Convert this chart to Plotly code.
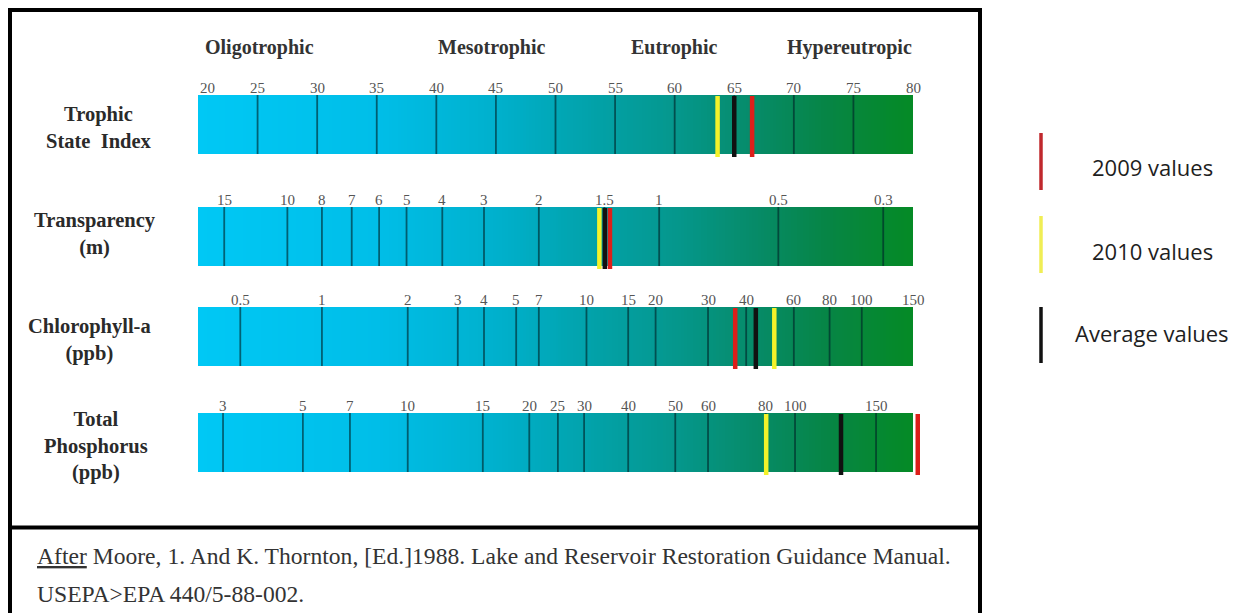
import numpy as np
import plotly.graph_objects as go

# ---------------- data ----------------
trophic_classes = ["Oligotrophic", "Mesotrophic", "Eutrophic", "Hypereutropic"]

parameter_lines = [
    ["Trophic", "State  Index"],
    ["Transparency", "(m)"],
    ["Chlorophyll-a", "(ppb)"],
    ["Total", "Phosphorus", "(ppb)"],
]

# tick labels of each scale and their position on the common TSI scale (20-80)
tsi_labels = ["20", "25", "30", "35", "40", "45", "50", "55", "60", "65", "70", "75", "80"]
tsi_ticks = [20, 25, 30, 35, 40, 45, 50, 55, 60, 65, 70, 75, 80]

transparency_labels = ["15", "10", "8", "7", "6", "5", "4", "3", "2", "1.5", "1", "0.5", "0.3"]
transparency_ticks = [22.2, 27.5, 30.4, 32.9, 35.2, 37.5, 40.5, 44.0, 48.6, 54.1, 58.7, 68.7, 77.5]

chlorophyll_labels = ["0.5", "1", "2", "3", "4", "5", "7", "10", "15", "20", "30", "40", "60", "80", "100", "150"]
chlorophyll_ticks = [23.55, 30.4, 37.6, 41.8, 44.0, 46.7, 48.6, 52.6, 56.1, 58.4, 62.8, 66.0, 70.0, 73.0, 75.7, 80.0]

phosphorus_labels = ["3", "5", "7", "10", "15", "20", "25", "30", "40", "50", "60", "80", "100", "150"]
phosphorus_ticks = [22.1, 28.8, 32.75, 37.6, 43.9, 47.8, 50.2, 52.4, 56.1, 60.05, 62.8, 67.65, 70.1, 76.9]

# measured values on the TSI-equivalent scale, per parameter row
series_names = ["2009 values", "2010 values", "Average values"]
values_2009 = [66.5, 54.57, 65.08, 80.4]
values_2010 = [63.6, 53.68, 68.36, 67.68]
values_avg = [65.0, 54.14, 66.81, 73.96]

footer_line1 = "Moore, 1. And K. Thornton, [Ed.]1988. Lake and Reservoir Restoration Guidance Manual."
footer_line2 = "USEPA>EPA 440/5-88-002."

# ---------------- layout / style ----------------
W, H = 1239, 613
OFF = 8                        # page offset of the figure (body margin)
PX0, PX1 = 198, 913            # page pixel positions of TSI 20 and 80
TMIN, TMAX = 20, 80
sc = (PX1 - PX0) / (TMAX - TMIN)
x_range = [TMIN + (OFF - PX0) / sc, TMIN + (OFF + W - PX0) / sc]
y_range = [H + OFF, OFF]

bar_tops = [95, 207, 307, 413]
bar_h = 59
row_ticks = [tsi_ticks, transparency_ticks, chlorophyll_ticks, phosphorus_ticks]
row_labels = [tsi_labels, transparency_labels, chlorophyll_labels, phosphorus_labels]
label_x_px = [99, 95, 89, 96]
label_y_px = [127.5, 233.5, 339.5, 446]
class_x_px = [259, 492, 674, 849]

SERIF = "Liberation Serif, Times New Roman, serif"
SANS = "Open Sans, Noto Sans, sans-serif"

colorscale = [
    [0.0, "#00C8F5"], [0.25, "#00BEE8"], [0.42, "#00B0CC"], [0.55, "#02A2AA"],
    [0.67, "#05978C"], [0.78, "#068B68"], [0.88, "#068545"], [1.0, "#058A25"],
]
series_colors = {"2009 values": "#DD1F1A", "2010 values": "#F4F22A", "Average values": "#111111"}
legend_colors = {"2009 values": "#C0282D", "2010 values": "#F0EE55", "Average values": "#111111"}

def px(x):
    return (x - OFF) / W

fig = go.Figure()

# gradient bars
edges = np.linspace(TMIN, TMAX, 241)
centers = (edges[:-1] + edges[1:]) / 2
for top in bar_tops:
    fig.add_trace(go.Heatmap(
        x=edges, y=[top, top + bar_h], z=[centers],
        zmin=TMIN, zmax=TMAX, colorscale=colorscale, showscale=False,
        hoverinfo="skip",
    ))

# tick lines inside bars
for top, ticks in zip(bar_tops, row_ticks):
    xs, ys = [], []
    for t in ticks:
        if TMIN < t < TMAX:
            xs += [t, t, None]
            ys += [top, top + bar_h, None]
    fig.add_trace(go.Scatter(x=xs, y=ys, mode="lines",
                             line=dict(color="rgba(0,35,40,0.62)", width=1.8),
                             hoverinfo="skip", showlegend=False))

# value markers
for name, vals in [("2010 values", values_2010), ("Average values", values_avg), ("2009 values", values_2009)]:
    xs, ys = [], []
    for top, v in zip(bar_tops, vals):
        xs += [v, v, None]
        ys += [top + 1, top + bar_h + 3, None]
    fig.add_trace(go.Scatter(x=xs, y=ys, mode="lines", name=name,
                             line=dict(color=series_colors[name], width=4.5),
                             hoverinfo="skip", showlegend=False))

annotations = []
# tick labels
for top, ticks, labels in zip(bar_tops, row_ticks, row_labels):
    for t, lab in zip(ticks, labels):
        annotations.append(dict(
            x=t, y=top - 7, xref="x", yref="y", text=lab, showarrow=False,
            xanchor="left" if t <= TMIN else "center", yanchor="middle",
            font=dict(family=SERIF, size=15, color="#555555"),
        ))

# trophic class headers
for name, xp in zip(trophic_classes, class_x_px):
    annotations.append(dict(
        x=px(xp), y=47, xref="paper", yref="y", text="<b>%s</b>" % name, showarrow=False,
        xanchor="center", yanchor="middle",
        font=dict(family=SERIF, size=20, color="#333333"),
    ))

# parameter labels
for lines, xp, yy in zip(parameter_lines, label_x_px, label_y_px):
    annotations.append(dict(
        x=px(xp), y=yy, xref="paper", yref="y",
        text="<br>".join("<b>%s</b>" % line for line in lines), showarrow=False,
        xanchor="center", yanchor="middle", align="center",
        font=dict(family=SERIF, size=20.5, color="#2a2a2a"),
    ))

# footer
annotations.append(dict(
    x=px(35), y=556, xref="paper", yref="y", text="<u>After</u> " + footer_line1, showarrow=False,
    xanchor="left", yanchor="middle", font=dict(family=SERIF, size=23.6, color="#333333"),
))
annotations.append(dict(
    x=px(35), y=594, xref="paper", yref="y", text=footer_line2, showarrow=False,
    xanchor="left", yanchor="middle", font=dict(family=SERIF, size=23.6, color="#333333"),
))

# custom legend
shapes = []
legend_lines_y = [(133, 190), (216, 273), (307, 363)]
legend_text_pos = [(1090, 167), (1090, 251), (1073, 333)]
for name, (y0, y1), (tx, ty) in zip(series_names, legend_lines_y, legend_text_pos):
    shapes.append(dict(type="line", xref="paper", yref="y", x0=px(1041), x1=px(1041), y0=y0, y1=y1,
                       line=dict(color=legend_colors[name], width=3.5)))
    annotations.append(dict(
        x=px(tx), y=ty, xref="paper", yref="y", text=name, showarrow=False,
        xanchor="left", yanchor="middle", font=dict(family=SANS, size=22, color="#1e1e1e"),
    ))

# frame and divider
shapes.append(dict(type="rect", xref="paper", yref="y", x0=px(10), x1=px(980), y0=10, y1=660,
                   line=dict(color="black", width=4), fillcolor="rgba(0,0,0,0)"))
shapes.append(dict(type="line", xref="paper", yref="y", x0=px(10), x1=px(980), y0=527.5, y1=527.5,
                   line=dict(color="black", width=4)))

fig.update_layout(
    width=W, height=H,
    margin=dict(l=0, r=0, t=0, b=0),
    paper_bgcolor="white", plot_bgcolor="white",
    xaxis=dict(range=x_range, domain=[0, 1], visible=False, fixedrange=True),
    yaxis=dict(range=y_range, domain=[0, 1], visible=False, fixedrange=True),
    annotations=annotations, shapes=shapes, showlegend=False,
)

fig.write_html("out.html", config={"displayModeBar": False})
